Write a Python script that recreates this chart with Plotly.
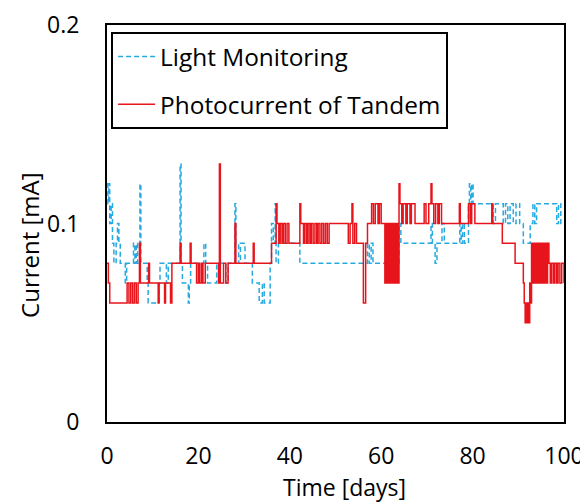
import plotly.graph_objects as go

# Light Monitoring (step series)
blue_days = [0.0, 0.2, 0.4, 0.6, 0.9, 1.2, 1.5, 2.0, 2.3, 2.6, 2.9, 4.0, 4.3, 5.8, 6.1, 6.4, 6.7,
             7.2, 7.4, 8.8, 9.0, 11.4, 11.6, 13.0, 13.4, 16.0, 16.2, 16.5, 17.8, 18.0, 18.3,
             21.2, 21.6, 22.0, 24.0, 26.0, 26.5, 28.0, 28.2, 28.8, 29.2, 30.2, 31.8, 33.3,
             34.0, 34.4, 35.7, 36.0, 36.4, 36.8, 37.0, 37.5, 42.2, 57.0, 57.4, 57.8, 58.2,
             63.9, 64.3, 70.9, 71.2, 71.8, 72.2, 73.3, 73.8, 77.2, 77.5, 77.8, 78.2, 79.1,
             79.3, 79.6, 79.8, 80.1, 84.5, 85.0, 86.7, 87.2, 87.7, 88.2, 88.9, 89.5, 90.3,
             91.1, 92.6, 93.2, 93.6, 94.0, 98.4, 98.8, 99.3, 100.0]
blue_current = [0.12, 0.11, 0.12, 0.10, 0.11, 0.09, 0.08, 0.09, 0.10, 0.09, 0.08, 0.07, 0.08, 0.09, 0.08, 0.09, 0.08,
                0.12, 0.08, 0.07, 0.06, 0.07, 0.08, 0.07, 0.08, 0.13, 0.08, 0.07, 0.06, 0.07, 0.08,
                0.09, 0.08, 0.07, 0.08, 0.07, 0.08, 0.11, 0.09, 0.08, 0.09, 0.08, 0.07, 0.06,
                0.07, 0.06, 0.08, 0.10, 0.09, 0.11, 0.08, 0.09, 0.08, 0.09, 0.08, 0.09, 0.08,
                0.10, 0.09, 0.10, 0.09, 0.08, 0.09, 0.10, 0.09, 0.10, 0.09, 0.10, 0.09, 0.11,
                0.12, 0.11, 0.12, 0.11, 0.10, 0.11, 0.10, 0.11, 0.10, 0.11, 0.10, 0.11, 0.10,
                0.09, 0.10, 0.11, 0.10, 0.11, 0.10, 0.11, 0.10, 0.10]

# Photocurrent of Tandem (step series)
red_days = [0.0, 0.3, 0.6, 4.4, 4.8, 5.2, 5.6, 6.0, 6.4, 6.8, 7.1, 7.3, 9.1, 9.3, 11.2, 11.4,
            12.6, 12.8, 13.9, 14.2, 16.0, 16.2, 18.2, 18.4, 19.6, 20.0, 20.3, 20.7, 21.0, 21.5,
            24.4, 24.6, 24.8, 25.5, 26.0, 26.5, 28.0, 28.2, 32.0, 32.2, 36.0, 37.0, 37.2, 37.6,
            37.9, 38.3, 38.6, 39.0, 39.4, 39.8, 42.2, 42.4, 43.0, 43.3, 43.7, 44.0, 44.4, 44.7,
            45.1, 45.5, 45.9, 46.2, 46.6, 47.0, 47.4, 47.8, 48.2, 48.6, 52.8, 53.2, 53.6, 53.8,
            54.2, 54.6, 56.1, 56.6, 57.0, 57.9, 58.3, 58.7, 59.3, 59.6, 60.0, 60.8, 61.0, 61.2,
            61.4, 61.6, 61.8, 62.0, 62.2, 62.4, 62.6, 62.8, 63.0, 63.2, 63.4, 63.6, 63.9, 64.1,
            64.5, 64.8, 65.4, 65.7, 66.3, 66.6, 67.4, 69.4, 69.8, 70.4, 70.9, 71.1, 71.5, 71.9,
            72.4, 72.7, 73.2, 77.1, 77.3, 79.1, 79.5, 79.8, 80.5, 84.2, 84.4, 86.5, 89.3, 91.1,
            91.3, 91.5, 91.7, 91.9, 92.1, 92.3, 92.5, 92.7, 92.9, 93.1, 93.3, 93.5, 93.7, 93.9,
            94.1, 94.3, 94.5, 94.7, 94.9, 95.1, 95.3, 95.5, 95.8, 96.1, 96.4, 96.7, 97.0, 97.3,
            97.7, 98.0, 98.4, 98.7, 99.1, 99.5, 100.0]
red_current = [0.08, 0.07, 0.06, 0.07, 0.06, 0.07, 0.06, 0.07, 0.06, 0.07, 0.09, 0.07, 0.08, 0.07, 0.06, 0.07,
               0.06, 0.07, 0.06, 0.08, 0.09, 0.08, 0.09, 0.08, 0.07, 0.08, 0.07, 0.08, 0.07, 0.08,
               0.07, 0.13, 0.07, 0.08, 0.07, 0.08, 0.10, 0.08, 0.09, 0.08, 0.09, 0.11, 0.10, 0.09,
               0.10, 0.09, 0.10, 0.09, 0.10, 0.09, 0.11, 0.10, 0.09, 0.10, 0.09, 0.10, 0.09, 0.10,
               0.09, 0.10, 0.09, 0.10, 0.09, 0.10, 0.09, 0.10, 0.09, 0.10, 0.09, 0.10, 0.11, 0.09,
               0.10, 0.09, 0.06, 0.09, 0.10, 0.11, 0.10, 0.11, 0.10, 0.11, 0.10, 0.07, 0.10, 0.07,
               0.10, 0.07, 0.10, 0.07, 0.10, 0.07, 0.10, 0.07, 0.10, 0.07, 0.10, 0.07, 0.12, 0.11,
               0.10, 0.11, 0.10, 0.11, 0.10, 0.11, 0.10, 0.11, 0.10, 0.11, 0.12, 0.11, 0.10, 0.11,
               0.10, 0.11, 0.10, 0.11, 0.10, 0.11, 0.10, 0.11, 0.10, 0.11, 0.10, 0.09, 0.08, 0.07,
               0.06, 0.05, 0.06, 0.05, 0.06, 0.05, 0.07, 0.06, 0.09, 0.07, 0.09, 0.07, 0.09, 0.07,
               0.09, 0.07, 0.09, 0.07, 0.09, 0.07, 0.09, 0.07, 0.09, 0.07, 0.09, 0.08, 0.07, 0.08,
               0.07, 0.08, 0.07, 0.08, 0.07, 0.08, 0.07]

x_ticks = [0, 20, 40, 60, 80, 100]
y_ticks = [0, 0.1, 0.2]
y_tick_labels = ["0", "0.1", "0.2"]
x_title = "Time [days]"
y_title = "Current [mA]"

fig = go.Figure()
fig.add_trace(go.Scatter(
    x=blue_days, y=blue_current, mode="lines", name="Light Monitoring",
    line=dict(color="#27A9E1", width=1.5, dash="5px,3px", shape="hv"),
    legendgroup="a"))
fig.add_trace(go.Scatter(
    x=red_days, y=red_current, mode="lines", name="Photocurrent of Tandem",
    line=dict(color="#E8141C", width=1.5, shape="hv"),
    legendgroup="b"))

# page body has an 8px margin, so the figure is sized 580x494
fig.update_layout(
    width=580, height=494,
    margin=dict(l=99, r=24, t=17, b=80, autoexpand=False),
    plot_bgcolor="white", paper_bgcolor="white",
    font=dict(family="Open Sans", size=23, color="black"),
    showlegend=True,
    legend=dict(x=0.009, y=0.982, xanchor="left", yanchor="top",
                bordercolor="black", borderwidth=2, bgcolor="white",
                font=dict(size=24.4), tracegroupgap=13, traceorder="grouped",
                itemwidth=37),
    xaxis=dict(range=[0, 100], tickvals=x_ticks, showgrid=False, zeroline=False,
               showline=True, mirror=True, linecolor="black", linewidth=2,
               ticks="", ticklabelstandoff=12, automargin=False),
    yaxis=dict(range=[0, 0.2], tickvals=y_ticks, ticktext=y_tick_labels, showgrid=False,
               zeroline=False, showline=True, mirror=True, linecolor="black", linewidth=2,
               ticks="", ticklabelstandoff=21, automargin=False),
    annotations=[
        dict(text=x_title, xref="paper", yref="paper", x=0.52, y=-0.1637,
             xanchor="center", yanchor="middle", showarrow=False, font=dict(size=23)),
        dict(text=y_title, xref="paper", yref="paper", x=-0.1685, y=0.446,
             xanchor="center", yanchor="middle", textangle=-90, showarrow=False,
             font=dict(size=24)),
    ],
)

fig.write_html("out.html")
